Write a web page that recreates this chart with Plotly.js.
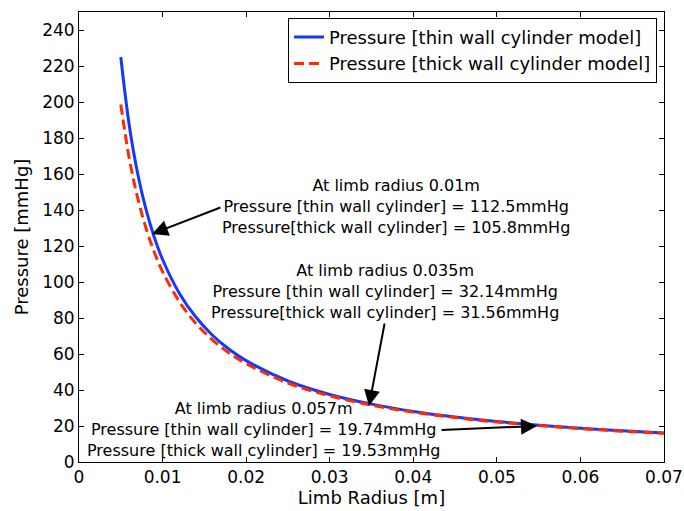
<!DOCTYPE html>
<html>
<head>
<meta charset="utf-8">
<script src="https://cdn.plot.ly/plotly-3.0.1.min.js"></script>
<style>html,body{margin:0;padding:0;background:#fff;}#chart{width:684px;height:511px;}</style>
</head>
<body>
<div id="chart"></div>
<script>
// Limb radius [m]
const radius = [0.005, 0.006, 0.007, 0.008, 0.009, 0.010, 0.012, 0.014, 0.016, 0.018, 0.020, 0.025, 0.030, 0.035, 0.040, 0.045, 0.050, 0.057, 0.060, 0.065, 0.070];
// Pressure [mmHg], thin wall cylinder model
const thinWall = [225.0, 187.5, 160.7, 140.6, 125.0, 112.5, 93.8, 80.4, 70.3, 62.5, 56.3, 45.0, 37.5, 32.14, 28.1, 25.0, 22.5, 19.74, 18.8, 17.3, 16.1];
// Pressure [mmHg], thick wall cylinder model
const thickWall = [198.6, 169.0, 147.1, 130.2, 116.7, 105.8, 89.1, 76.9, 67.7, 60.4, 54.6, 43.9, 36.75, 31.56, 27.7, 24.67, 22.23, 19.53, 18.56, 17.13, 15.93];

const seriesNames = ['Pressure [thin wall cylinder model]', 'Pressure [thick wall cylinder model]'];
const xTicks = [0, 0.01, 0.02, 0.03, 0.04, 0.05, 0.06, 0.07];
const xTickText = ['0', '0.01', '0.02', '0.03', '0.04', '0.05', '0.06', '0.07'];
const yTicks = [0, 20, 40, 60, 80, 100, 120, 140, 160, 180, 200, 220, 240];

// Annotation texts and where they point
const noteTexts = [
  'At limb radius 0.01m<br>Pressure [thin wall cylinder] = 112.5mmHg<br>Pressure[thick wall cylinder] = 105.8mmHg',
  'At limb radius 0.035m<br>Pressure [thin wall cylinder] = 32.14mmHg<br>Pressure[thick wall cylinder] = 31.56mmHg',
  'At limb radius 0.057m<br>Pressure [thin wall cylinder] = 19.74mmHg<br>Pressure [thick wall cylinder] = 19.53mmHg'
];
const noteX = [0.0379, 0.0366, 0.0221];
const noteY = [142.2, 95.0, 18.3];
const arrowTipX = [0.00874, 0.0347, 0.0548];
const arrowTipY = [126.7, 31.1, 20.0];
const arrowTailX = [0.0171, 0.0366, 0.0432];
const arrowTailY = [141.7, 77.8, 17.8];

const FONT = 'DejaVu Sans, Arial, sans-serif';

const traces = [
  {x: radius, y: thinWall, type: 'scatter', mode: 'lines', name: seriesNames[0],
   line: {color: '#1438ff', width: 3, shape: 'spline'}},
  {x: radius, y: thickWall, type: 'scatter', mode: 'lines', name: seriesNames[1],
   line: {color: '#ff2a00', width: 3, dash: '10px,5px', shape: 'spline'}}
];

const annotations = [];
for (let i = 0; i < noteTexts.length; i++) {
  annotations.push({x: noteX[i], y: noteY[i], xref: 'x', yref: 'y', text: noteTexts[i],
    showarrow: false, align: 'center', font: {family: FONT, size: 16, color: '#000'}});
  annotations.push({x: arrowTipX[i], y: arrowTipY[i], xref: 'x', yref: 'y',
    ax: arrowTailX[i], ay: arrowTailY[i], axref: 'x', ayref: 'y', text: '',
    showarrow: true, arrowhead: 2, arrowsize: 1.6, arrowwidth: 2, arrowcolor: '#000'});
}

const axisCommon = {
  showline: true, linecolor: '#000', linewidth: 1, mirror: 'ticks',
  ticks: 'inside', ticklen: 5, tickcolor: '#000', showgrid: false, zeroline: false,
  tickfont: {family: FONT, size: 17, color: '#000'}
};

const layout = {
  width: 684, height: 511,
  margin: {l: 79, r: 20, t: 12, b: 49},
  paper_bgcolor: '#fff', plot_bgcolor: '#fff',
  showlegend: true,
  legend: {x: 0.988, y: 0.987, xanchor: 'right', yanchor: 'top',
    bgcolor: '#fff', bordercolor: '#000', borderwidth: 1, itemwidth: 30,
    font: {family: FONT, size: 18, color: '#000'}},
  xaxis: Object.assign({}, axisCommon, {range: [0, 0.07], tickvals: xTicks, ticktext: xTickText,
    title: {text: 'Limb Radius [m]', font: {family: FONT, size: 18, color: '#000'}, standoff: 4}}),
  yaxis: Object.assign({}, axisCommon, {range: [0, 250], tickvals: yTicks,
    title: {text: 'Pressure [mmHg]', font: {family: FONT, size: 18, color: '#000'}, standoff: 8}}),
  annotations: annotations
};

Plotly.newPlot('chart', traces, layout, {displayModeBar: false, staticPlot: true});
</script>
</body>
</html>
